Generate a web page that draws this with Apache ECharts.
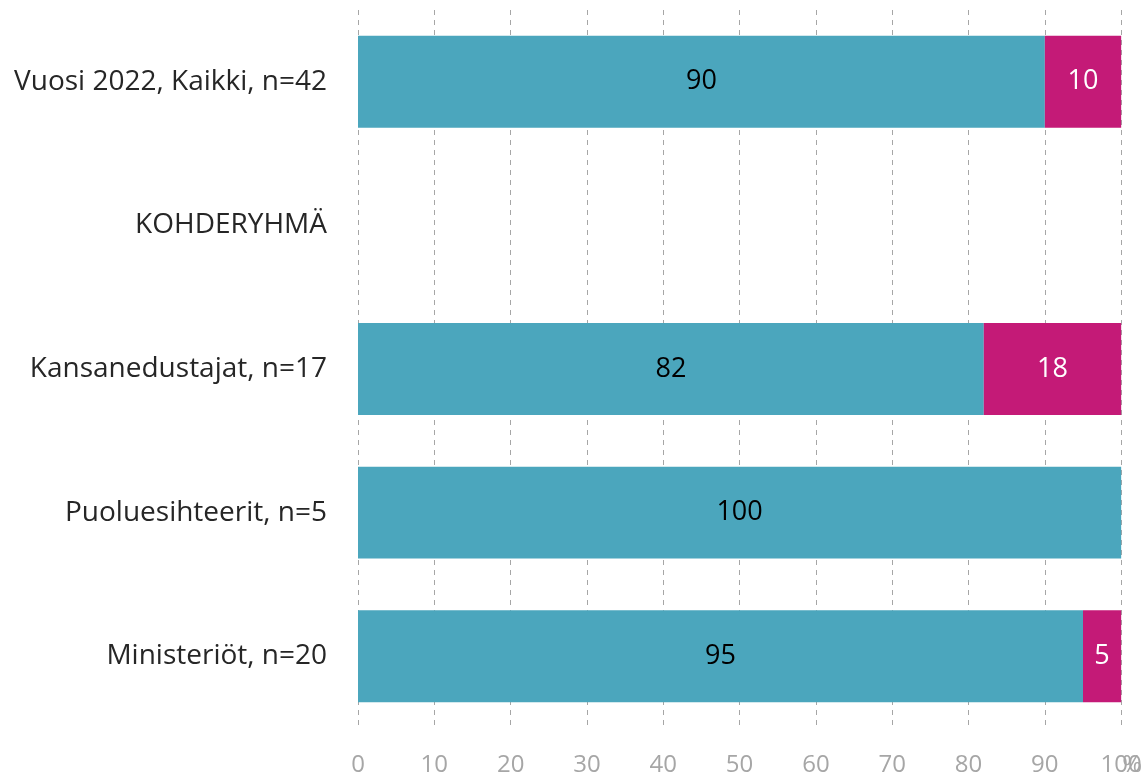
<!DOCTYPE html>
<html>
<head>
<meta charset="utf-8">
<script src="https://cdn.jsdelivr.net/npm/echarts@6/dist/echarts.min.js"></script>
<style>
html,body{margin:0;padding:0;background:#fff;}
#chart{width:1145px;height:777px;}
</style>
</head>
<body>
<div id="chart"></div>
<script>
const categories = ['Vuosi 2022, Kaikki, n=42', 'KOHDERYHMÄ', 'Kansanedustajat, n=17', 'Puoluesihteerit, n=5', 'Ministeriöt, n=20'];
const seriesA = [90, null, 82, 100, 95];
const seriesB = [10, null, 18, 0, 5];
const xTicks = [0, 10, 20, 30, 40, 50, 60, 70, 80, 90, 100];

const FONT = '"Open Sans", sans-serif';
const chart = echarts.init(document.getElementById('chart'));
chart.setOption({
  animation: false,
  grid: { left: 358, right: 21, top: 10, bottom: 48, containLabel: false },
  xAxis: {
    type: 'value', min: xTicks[0], max: xTicks[xTicks.length - 1], interval: 10,
    name: '%', nameLocation: 'end', nameGap: 1, nameMoveOverlap: false,
    nameTextStyle: { color: '#A6A6A6', fontSize: 24, fontFamily: FONT, verticalAlign: 'top', padding: [25, 0, 0, 0] },
    axisLine: { show: false }, axisTick: { show: false },
    axisLabel: { color: '#A6A6A6', fontSize: 24, fontFamily: FONT, margin: 25 },
    splitLine: { show: true, lineStyle: { color: '#A6A6A6', type: [5, 5], width: 1 } }
  },
  yAxis: {
    type: 'category', data: categories, inverse: true,
    axisLine: { show: false }, axisTick: { show: false },
    axisLabel: { color: '#262626', fontSize: 28, fontFamily: FONT, margin: 31 }
  },
  series: [
    {
      type: 'bar', stack: 'a', data: seriesA, barCategoryGap: '36%',
      itemStyle: { color: '#4BA6BD' },
      label: { show: true, position: 'inside', color: '#000', fontSize: 27, fontFamily: FONT,
        formatter: p => (p.value ? p.value : '') }
    },
    {
      type: 'bar', stack: 'a', data: seriesB,
      itemStyle: { color: '#C41A77' },
      label: { show: true, position: 'inside', color: '#fff', fontSize: 27, fontFamily: FONT,
        formatter: p => (p.value ? p.value : '') }
    }
  ]
});
</script>
</body>
</html>
